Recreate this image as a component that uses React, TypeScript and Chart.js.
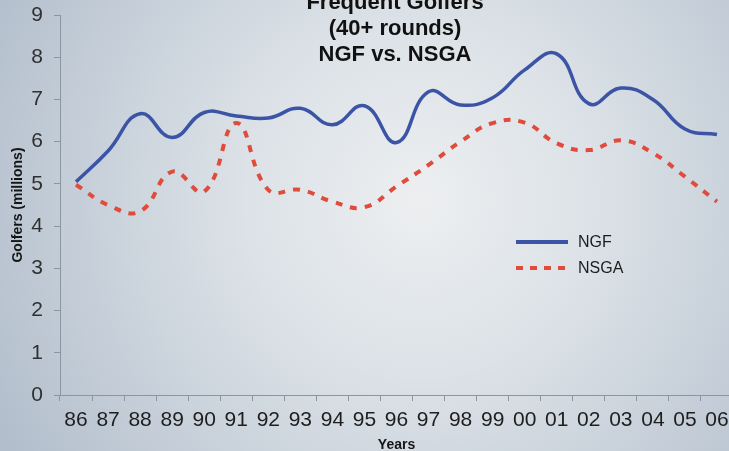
import React, { useEffect, useRef } from "react";
import { Chart, registerables } from "chart.js";

Chart.register(...registerables);

const years = ["86","87","88","89","90","91","92","93","94","95","96","97","98","99","00","01","02","03","04","05","06"];
const ngf = [5.05, 5.78, 6.66, 6.1, 6.69, 6.61, 6.56, 6.79, 6.4, 6.85, 5.98, 7.18, 6.87, 7.04, 7.7, 8.08, 6.9, 7.27, 7.0, 6.3, 6.17];
const nsga = [4.98, 4.5, 4.35, 5.29, 4.82, 6.44, 4.86, 4.86, 4.58, 4.45, 4.94, 5.45, 6.0, 6.44, 6.45, 5.96, 5.8, 6.03, 5.73, 5.17, 4.58];
const titleLines = ["Frequent Golfers", "(40+ rounds)", "NGF vs. NSGA"];
const yTicks = [0, 1, 2, 3, 4, 5, 6, 7, 8, 9];

const NGF_COLOR = "#3c54a6";
const NSGA_COLOR = "#e04b3b";
const AXIS_COLOR = "#8a96a2";
const FONT = "'Liberation Sans', Arial, sans-serif";

const W = 745;
const H = 479;
const OFFSET_TOP = 25;

const bgPlugin = {
  id: "bgGradient",
  beforeDraw(chart: any) {
    const ctx = chart.ctx;
    ctx.save();
    const g = ctx.createRadialGradient(420, 225, 10, 420, 225, 480);
    g.addColorStop(0, "#eceef0");
    g.addColorStop(0.35, "#dce2e7");
    g.addColorStop(0.7, "#c6cfd9");
    g.addColorStop(1, "#b2becc");
    ctx.fillStyle = g;
    ctx.fillRect(0, 0, chart.width, chart.height);
    ctx.restore();
  },
};

const overlayPlugin = {
  id: "overlay",
  afterDraw(chart: any) {
    const ctx = chart.ctx;
    ctx.save();
    ctx.fillStyle = "#111";
    ctx.font = `bold 22px ${FONT}`;
    ctx.textAlign = "center";
    ctx.textBaseline = "middle";
    titleLines.forEach((t, i) => {
      ctx.fillText(t, 395, 3 + OFFSET_TOP + i * 26);
    });
    const ds = chart.data.datasets;
    const items = [
      { label: ds[0].label, color: ds[0].borderColor, dash: [] as number[], y: 242 },
      { label: ds[1].label, color: ds[1].borderColor, dash: [7, 7], y: 268 },
    ];
    items.forEach((it) => {
      const y = it.y + OFFSET_TOP;
      ctx.beginPath();
      ctx.setLineDash(it.dash);
      ctx.lineCap = "butt";
      ctx.strokeStyle = it.color;
      ctx.lineWidth = 4;
      ctx.moveTo(516, y);
      ctx.lineTo(568, y);
      ctx.stroke();
      ctx.setLineDash([]);
      ctx.fillStyle = "#1c1c1c";
      ctx.font = `16px ${FONT}`;
      ctx.textAlign = "left";
      ctx.textBaseline = "middle";
      ctx.fillText(it.label, 578, y + 1);
    });
    ctx.restore();
  },
};

export default function App() {
  const ref = useRef<HTMLCanvasElement | null>(null);

  useEffect(() => {
    if (!ref.current) return;
    const chart = new Chart(ref.current, {
      type: "line",
      data: {
        labels: years,
        datasets: [
          {
            label: "NGF",
            data: ngf,
            borderColor: NGF_COLOR,
            borderWidth: 3.5,
            pointRadius: 0,
            tension: 0.45,
            fill: false,
          },
          {
            label: "NSGA",
            data: nsga,
            borderColor: NSGA_COLOR,
            borderWidth: 4,
            borderDash: [7, 8],
            pointRadius: 0,
            tension: 0.45,
            fill: false,
          },
        ],
      },
      options: {
        animation: false,
        responsive: false,
        maintainAspectRatio: false,
        devicePixelRatio: 1,
        layout: { padding: { top: 40, right: 12, left: 0, bottom: 0 } },
        plugins: {
          legend: { display: false },
          title: { display: false },
          tooltip: { enabled: false },
        },
        scales: {
          x: {
            type: "category",
            offset: true,
            border: { display: true, color: AXIS_COLOR, width: 1 },
            grid: { display: true, offset: true, drawOnChartArea: false, drawTicks: true, tickLength: 6, color: AXIS_COLOR },
            ticks: { color: "#1e1e1e", font: { family: FONT, size: 21 }, padding: 7, maxRotation: 0, autoSkip: false },
            title: { display: true, text: "Years", color: "#151515", font: { family: FONT, size: 14, weight: "bold" }, padding: { top: 0, bottom: 0 } },
            afterFit(scale: any) {
              scale.height = 59;
            },
          },
          y: {
            min: 0,
            max: 9,
            afterBuildTicks(scale: any) {
              scale.ticks = yTicks.map((v) => ({ value: v }));
            },
            border: { display: true, color: AXIS_COLOR, width: 1 },
            grid: { display: true, drawOnChartArea: false, drawTicks: true, tickLength: 6, color: AXIS_COLOR },
            ticks: { color: "#303030", font: { family: FONT, size: 21 }, padding: 11 },
            title: { display: true, text: "Golfers (millions)", color: "#151515", font: { family: FONT, size: 14, weight: "bold" }, padding: { top: 10, bottom: 0 } },
            afterFit(scale: any) {
              scale.width = 60;
            },
          },
        },
      },
      plugins: [bgPlugin, overlayPlugin],
    });
    return () => chart.destroy();
  }, []);

  return (
    <div style={{ position: "fixed", left: 0, top: 0, width: 729, height: 451, overflow: "hidden", background: "#c6cfd9" }}>
      <canvas ref={ref} width={W} height={H} style={{ position: "absolute", left: 0, top: -OFFSET_TOP, width: W, height: H }} />
    </div>
  );
}
